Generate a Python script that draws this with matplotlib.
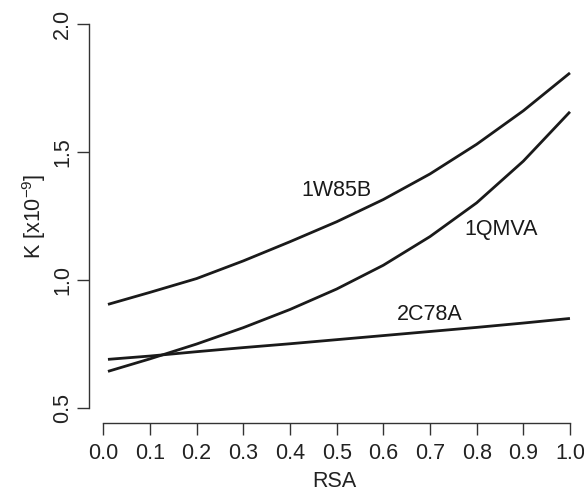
import matplotlib
matplotlib.use("Agg")
import matplotlib.pyplot as plt

plt.rcParams["font.family"] = ["Liberation Sans", "DejaVu Sans"]
plt.rcParams["mathtext.fontset"] = "custom"
plt.rcParams["mathtext.rm"] = "Liberation Sans"
plt.rcParams["mathtext.it"] = "Liberation Sans:italic"

# Relative solvent accessibility and fitted K values (x 1e-9)
rsa = [0.01, 0.1, 0.2, 0.3, 0.4, 0.5, 0.6, 0.7, 0.8, 0.9, 1.0]
k_1w85b = [0.905, 0.952, 1.006, 1.075, 1.150, 1.228, 1.315, 1.415, 1.531, 1.662, 1.810]
k_1qmva = [0.643, 0.692, 0.750, 0.814, 0.885, 0.965, 1.058, 1.170, 1.302, 1.465, 1.658]
k_2c78a = [0.690, 0.703, 0.720, 0.736, 0.751, 0.767, 0.783, 0.799, 0.815, 0.832, 0.850]

series_names = ["1W85B", "1QMVA", "2C78A"]
label_pos = [(0.50, 1.351), (0.852, 1.196), (0.70, 0.867)]

x_ticks = [0.0, 0.1, 0.2, 0.3, 0.4, 0.5, 0.6, 0.7, 0.8, 0.9, 1.0]
y_ticks = [0.5, 1.0, 1.5, 2.0]

ink = "#1a1a1a"
axis_col = "#333333"
fs = 15.5

fig = plt.figure(figsize=(5.84, 4.92), dpi=100)
ax = fig.add_axes([89.3 / 584, 68.7 / 492, 490 / 584, 414.3 / 492])

for vals in (k_1w85b, k_1qmva, k_2c78a):
    ax.plot(rsa, vals, color=ink, lw=2.0, solid_capstyle="butt",
            solid_joinstyle="round")

for name, (tx, ty) in zip(series_names, label_pos):
    ax.text(tx, ty, name, ha="center", va="center", fontsize=fs, color=ink)

ax.set_xlim(-0.03, 1.02)
ax.set_ylim(0.44, 2.06)

for side in ("top", "right"):
    ax.spines[side].set_visible(False)
ax.spines["left"].set_bounds(0.5, 2.0)
ax.spines["bottom"].set_bounds(0.0, 1.0)
for side in ("left", "bottom"):
    ax.spines[side].set_color(axis_col)
    ax.spines[side].set_linewidth(1.0)

ax.set_xticks(x_ticks)
ax.set_xticklabels([f"{v:.1f}" for v in x_ticks])
ax.set_yticks(y_ticks)
ax.set_yticklabels([f"{v:.1f}" for v in y_ticks], rotation=90, va="center")

ax.tick_params(axis="both", direction="out", length=8.6, width=1.0,
               color=axis_col, labelsize=fs, labelcolor="#222222")
ax.tick_params(axis="x", pad=5.5)
ax.tick_params(axis="y", pad=3)

ax.set_xlabel("RSA", fontsize=fs, color="#222222", labelpad=5)
ax.set_ylabel(r"K [x10$^{-9}$]", fontsize=fs, color="#222222", labelpad=3)

fig.savefig("out.png", dpi=100)
